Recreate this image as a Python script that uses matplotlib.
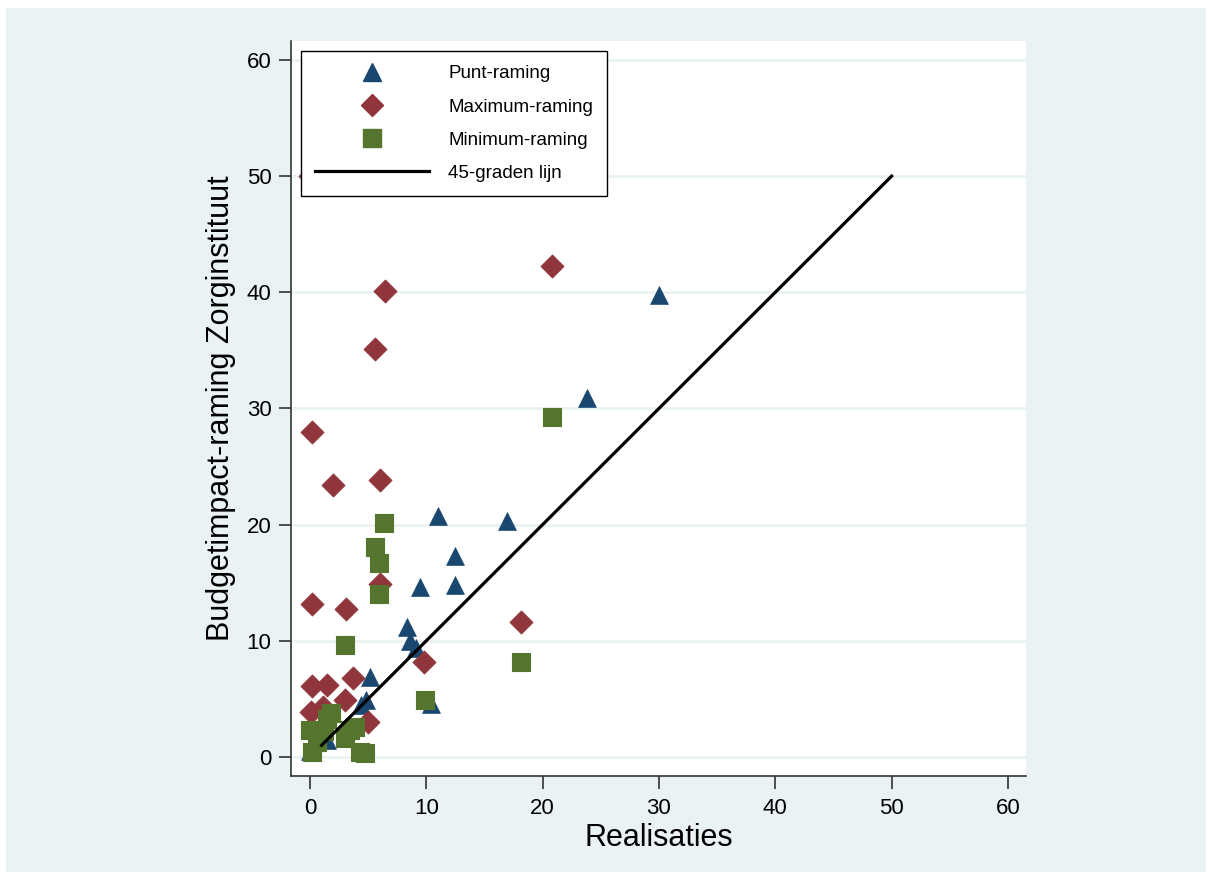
import matplotlib.pyplot as plt
from matplotlib.patches import Rectangle
from matplotlib.lines import Line2D

plt.rcParams['font.family'] = ['Liberation Sans', 'DejaVu Sans']

# Punt-raming (triangles)
punt_x = [30.0, 23.8, 16.9, 11.0, 12.5, 12.5, 9.5, 8.3, 8.6, 9.1, 10.4, 5.2, 4.8, 4.4, 0.0, 3.0, 1.5]
punt_y = [39.8, 30.9, 20.3, 20.7, 17.3, 14.8, 14.6, 11.2, 10.0, 9.4, 4.6, 6.9, 4.9, 4.5, 0.5, 2.5, 1.5]

# Maximum-raming (diamonds)
max_x = [20.8, 6.45, 5.6, 0.2, 2.0, 6.0, 6.0, 0.2, 3.1, 18.1, 9.8, 3.7, 1.5, 0.2, 0.1, 1.1, 3.0, 5.0, 0.0]
max_y = [42.3, 40.1, 35.1, 28.0, 23.4, 23.8, 14.9, 13.2, 12.7, 11.6, 8.2, 6.8, 6.2, 6.1, 3.9, 4.3, 4.9, 3.0, 50.0]

# Minimum-raming (squares)
min_x = [20.8, 6.4, 5.6, 5.9, 5.9, 3.0, 18.1, 9.9, 4.3, 4.7, 0.0, 0.2, 0.6, 1.8, 1.2, 3.4, 3.0, 3.9, 1.5]
min_y = [29.3, 20.1, 18.1, 16.7, 14.0, 9.6, 8.2, 4.9, 0.4, 0.3, 2.3, 0.4, 1.3, 3.8, 2.2, 2.3, 1.6, 2.6, 3.3]

# 45-graden lijn
lijn_x = [1, 50]
lijn_y = [1, 50]

ticks = [0, 10, 20, 30, 40, 50, 60]

navy = '#1A476F'
maroon = '#90353B'
green = '#55752F'
bg = '#EAF2F3'

fig = plt.figure(figsize=(12.12, 8.81), dpi=100)
fig.patches.append(Rectangle((6 / 1212, 9 / 881), 1200 / 1212, 864 / 881,
                             transform=fig.transFigure, facecolor=bg,
                             edgecolor='none', zorder=-10))
ax = fig.add_axes([291 / 1212, 105 / 881, 735 / 1212, 735 / 881])
ax.set_facecolor('white')

ax.scatter(punt_x, punt_y, marker='^', s=165, color=navy, edgecolors=navy, linewidths=0.5, zorder=3)
ax.scatter(max_x, max_y, marker='D', s=140, color=maroon, edgecolors=maroon, linewidths=0.5, zorder=4)
ax.scatter(min_x, min_y, marker='s', s=165, color=green, edgecolors=green, linewidths=0.8,
           zorder=5).set_joinstyle('round')
ax.plot(lijn_x, lijn_y, color='black', lw=2.3, zorder=6)

ax.set_xlim(-1.63, 61.55)
ax.set_ylim(-1.64, 61.63)
ax.set_xticks(ticks)
ax.set_yticks(ticks)
ax.grid(axis='y', color=bg, lw=2)
ax.set_axisbelow(True)

for s in ['top', 'right']:
    ax.spines[s].set_visible(False)
for s in ['left', 'bottom']:
    ax.spines[s].set_color('#333333')
    ax.spines[s].set_linewidth(1.2)

ax.tick_params(axis='both', length=9, width=1.1, color='#222222', labelsize=16)
ax.tick_params(axis='y', pad=5)
ax.tick_params(axis='x', pad=7)

ax.set_xlabel('Realisaties', fontsize=22, labelpad=3)
ax.set_ylabel('Budgetimpact-raming Zorginstituut', fontsize=22, labelpad=8)

handles = [
    Line2D([], [], marker='^', ls='none', color=navy, markersize=13),
    Line2D([], [], marker='D', ls='none', color=maroon, markersize=11.7),
    Line2D([], [], marker='s', ls='none', color=green, markersize=12.5),
    Line2D([], [], color='black', lw=2.3),
]
labels = ['Punt-raming', 'Maximum-raming', 'Minimum-raming', '45-graden lijn']
leg = ax.legend(handles, labels, loc='upper left', bbox_to_anchor=(0.0136, 0.986),
                borderaxespad=0, fontsize=13.5, handlelength=6.1, handletextpad=1.0,
                borderpad=0.75, labelspacing=0.85, fancybox=False, framealpha=1,
                edgecolor='black')
leg.get_frame().set_linewidth(1.0)
leg.set_zorder(10)

fig.savefig('out.png', dpi=100, facecolor='white')
